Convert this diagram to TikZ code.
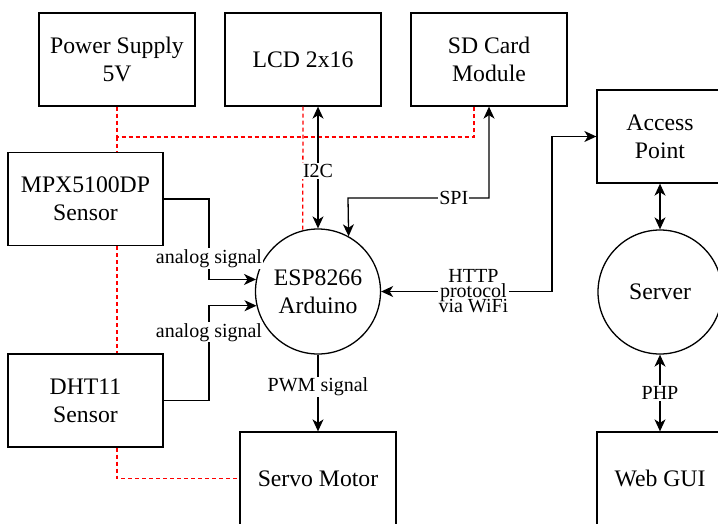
\documentclass[tikz,border=0pt]{standalone}
\usepackage{fontspec}
\setmainfont{Liberation Serif}
\usetikzlibrary{arrows.meta,positioning,calc}
\newcommand{\boxfont}{\rmfamily\fontsize{23.7}{28}\selectfont}
\newcommand{\sigfont}{\rmfamily\fontsize{20}{15}\selectfont\lineskiplimit=-50pt}
\tikzset{
  % rectangular hardware blocks
  block/.style={draw, line width=1.3pt, minimum width=156pt, minimum height=93pt,
    align=center, inner sep=2pt, font=\boxfont},
  % round processing units
  unit/.style={draw, circle, line width=1.3pt, minimum size=125pt, inner sep=0pt,
    align=center, font=\boxfont},
  % labels sitting on the connectors
  sig/.style={fill=white, inner sep=1pt, align=center, font=\sigfont},
  % data connectors
  dataln/.style={-{Stealth[length=12pt, width=11pt, inset=3.5pt]}, line width=1.3pt},
  bidata/.style={{Stealth[length=12pt, width=11pt, inset=3.5pt]}-{Stealth[length=12pt, width=11pt, inset=3.5pt]}, line width=1.3pt},
  % 5V power wiring
  pwrln/.style={red, line width=1.3pt, dash pattern=on 4pt off 3pt},
}

\begin{document}
\begin{tikzpicture}[x=1pt, y=-1pt]
  \clip (0,0) rectangle (718,523);
  % top row
  \node[block] (psu) at (117,59.5) {Power Supply\\5V};
  \node[block] (lcd) at (303,59.5) {LCD 2x16};
  \node[block] (sdcard) at (489,59.5) {SD Card\\Module};
  % sensors
  \node[block, minimum width=155pt] (mpx) at (85.5,199) {MPX5100DP\\Sensor};
  \node[block, minimum width=155pt] (dht) at (85.5,400.5) {DHT11\\Sensor};
  % controller and actuator
  \node[unit] (esp) at (318,291.5) {ESP8266\\Arduino};
  \node[block] (servo) at (318,478.5) {Servo Motor};
  % network side
  \node[block, minimum width=126pt] (ap) at (660,136.5) {Access\\Point};
  \node[unit, minimum size=124pt] (server) at (660,292) {Server};
  \node[block, minimum width=126pt] (webgui) at (660,478.5) {Web GUI};

  % bends of the wiring
  \coordinate (sigx) at (209,0);
  \coordinate (spibend) at (348,198);
  \coordinate (httpbend) at (552,291.5);
  \coordinate (pwrbus) at (0,137);

  % power wiring
  \draw[pwrln] (psu.south) |- ([xshift=-15pt]sdcard.south |- pwrbus)
    -- ([xshift=-15pt]sdcard.south);
  \draw[pwrln] (psu.south |- pwrbus) -- (psu.south |- mpx.north);
  \draw[pwrln] (lcd.south) -- (esp.104);
  \draw[pwrln] (psu.south |- mpx.south) -- (psu.south |- dht.north);
  \draw[pwrln] (psu.south |- dht.south) |- (servo.west);

  % signal wiring
  \draw[bidata] (esp.north |- lcd.south) -- node[sig, pos=0.53]{I2C} (esp.north);
  \draw[bidata] (sdcard.south) -- (sdcard.south |- spibend)
    -- node[sig, pos=0.25]{SPI} (spibend) -- (esp.61);
  \draw[bidata] (esp.east) -- node[sig, pos=0.54]{HTTP\\protocol\\via WiFi} (httpbend)
    |- (ap.west);
  \draw[dataln] (mpx.east) -| node[sig, pos=0.87]{analog signal} (sigx |- esp.169)
    -- (esp.169);
  \draw[dataln] (dht.east) -| node[sig, pos=0.86]{analog signal} (sigx |- esp.193)
    -- (esp.193);
  \draw[dataln] (esp.south) -- node[sig, pos=0.42]{PWM signal} (servo.north);
  \draw[bidata] (ap.south) -- (server.north);
  \draw[bidata] (server.south) -- node[sig]{PHP} (webgui.north);
\end{tikzpicture}
\end{document}
